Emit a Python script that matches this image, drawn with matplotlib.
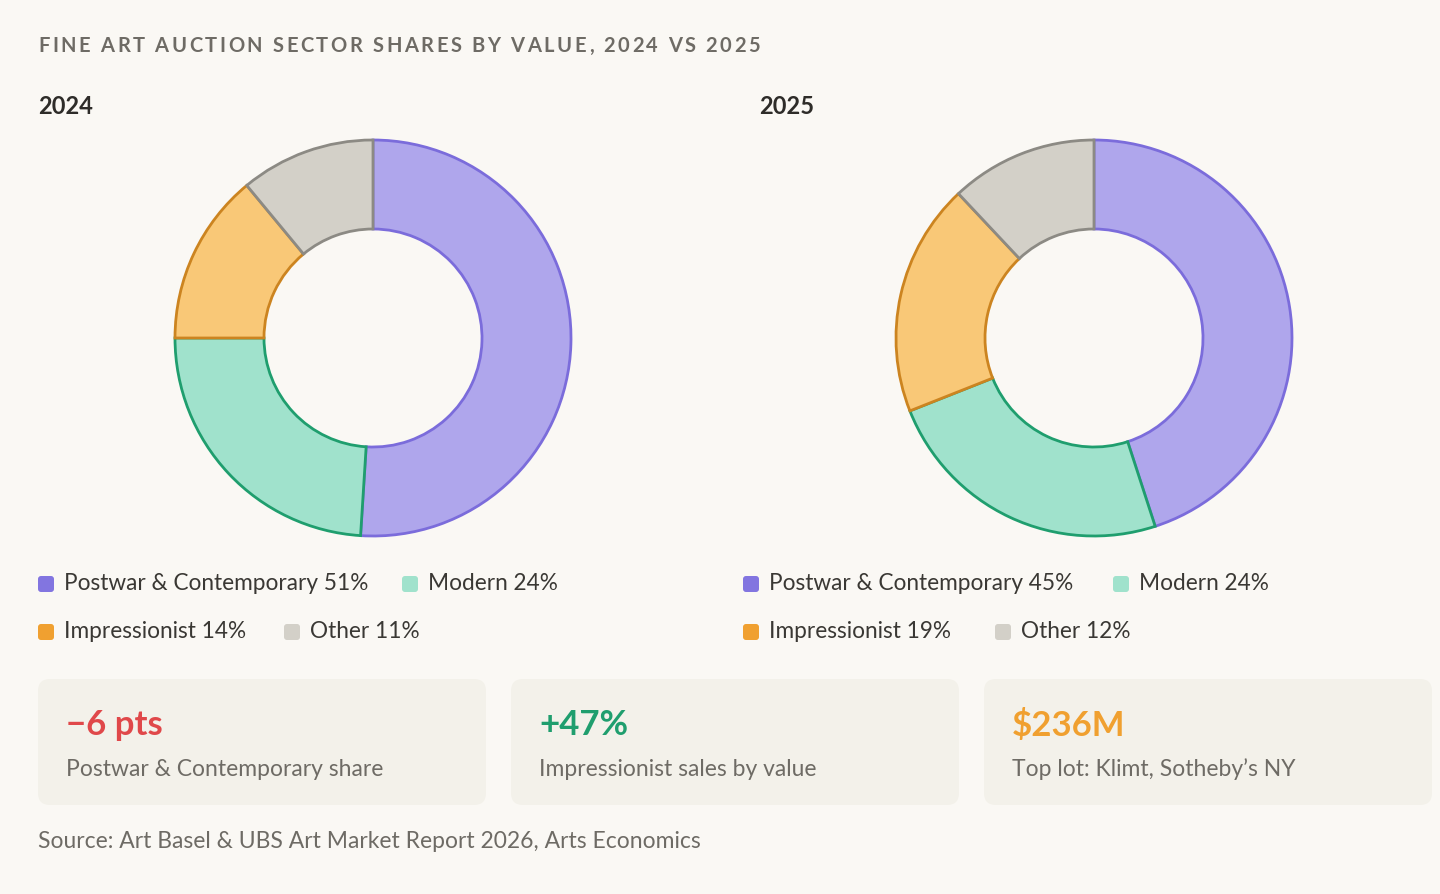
import matplotlib
matplotlib.use("Agg")
import matplotlib.pyplot as plt
from matplotlib.patches import FancyBboxPatch

plt.rcParams['font.family'] = ['Lato', 'DejaVu Sans']

categories = ["Postwar & Contemporary", "Modern", "Impressionist", "Other"]
shares_2024 = [51, 24, 14, 11]
shares_2025 = [45, 24, 19, 12]
years = ["2024", "2025"]
fills = ["#AFA6EC", "#A0E2CC", "#F9C877", "#D3D0C8"]
edges = ["#7B6CDB", "#1F9E6E", "#CC8420", "#8C8A84"]
swatch = ["#8275E0", "#A0E2CC", "#F0A030", "#D3D0C8"]
kpi_values = ["\u22126 pts", "+47%", "$236M"]
kpi_labels = ["Postwar & Contemporary share", "Impressionist sales by value", "Top lot: Klimt, Sotheby\u2019s NY"]
kpi_colors = ["#E0484A", "#1F9E6E", "#F0A030"]
title = "FINE ART AUCTION SECTOR SHARES BY VALUE, 2024 VS 2025"

W, H = 1440, 894
BG = "#FAF8F4"
fig = plt.figure(figsize=(W/100, H/100), dpi=100, facecolor=BG)
ov = fig.add_axes([0, 0, 1, 1], zorder=0)
ov.set_xlim(0, W); ov.set_ylim(H, 0); ov.axis("off")

# letter-spaced title
renderer = fig.canvas.get_renderer()
tkw = dict(fontsize=14.5, color="#6E6B65", fontweight="bold", va="center", ha="left")
spacing = 2.6
for i, ch in enumerate(title):
    if i == 0:
        w = 0
    else:
        tmp = fig.text(0, 0, title[:i] + "|", **tkw)
        tmp2 = fig.text(0, 0, "|", **tkw)
        w = tmp.get_window_extent(renderer).width - tmp2.get_window_extent(renderer).width
        tmp.remove(); tmp2.remove()
    ov.text(38 + w + i * spacing, 46, ch, **tkw)

legend_offsets = [(0, 0), (364, 0), (0, 48), (246, 48)]
for i, (yr, vals) in enumerate(zip(years, [shares_2024, shares_2025])):
    ov.text(38 + i * 721, 107, yr, fontsize=17, color="#2E2C29", fontweight="bold", va="center")
    cx, cy = 373 + i * 721, 338
    ax = fig.add_axes([(cx - 200) / W, 1 - (cy + 200) / H, 400 / W, 400 / H], zorder=1)
    ax.pie(vals, radius=198, startangle=90, counterclock=False, colors=fills,
           wedgeprops=dict(width=89, linewidth=2))
    for w, e in zip(ax.patches, edges):
        w.set_edgecolor(e)
    ax.set_xlim(-200, 200); ax.set_ylim(-200, 200); ax.axis("off")
    lx0 = 38 + i * 705
    for (dx, dy), c, cat, v in zip(legend_offsets, swatch, categories, vals):
        lx, ly = lx0 + dx + (6 if (i == 1 and dx > 0) else 0), 584 + dy
        ov.add_patch(FancyBboxPatch((lx, ly - 8), 16, 16, boxstyle="round,pad=0,rounding_size=3",
                                    fc=c, ec="none"))
        ov.text(lx + 26, ly, f"{cat} {v}%", fontsize=16.3, color="#3A3834", va="center")

for j in range(3):
    x0 = 38 + j * 473
    ov.add_patch(FancyBboxPatch((x0, 679), 448, 126, boxstyle="round,pad=0,rounding_size=12",
                                fc="#F3F1EA", ec="none"))
    ov.text(x0 + 28, 725, kpi_values[j], fontsize=25, color=kpi_colors[j], fontweight="bold", va="center")
    ov.text(x0 + 28, 769, kpi_labels[j], fontsize=16.5, color="#6E6B65", va="center")

ov.text(38, 841, "Source: Art Basel & UBS Art Market Report 2026, Arts Economics", fontsize=16.5,
        color="#6E6B65", va="center")

fig.savefig("out.png", dpi=100, facecolor=BG)
